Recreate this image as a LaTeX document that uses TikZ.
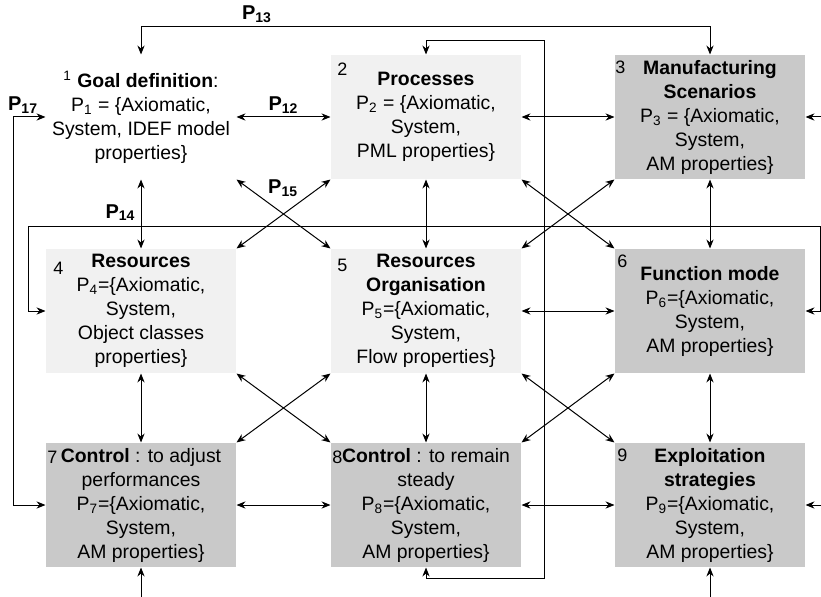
\documentclass[tikz,border=0pt]{standalone}
\usepackage{fontspec}
\setmainfont{Liberation Sans}
\usetikzlibrary{positioning,arrows.meta,calc}
\newcommand{\plab}[1]{\textbf{P\textsubscript{#1}}}

\begin{document}
\begin{tikzpicture}[>={Stealth[length=4.5pt,width=3.6pt]}, line width=0.5pt,
  box/.style={minimum width=95pt,minimum height=62pt,
    inner xsep=1.5pt,inner ysep=1pt,align=center,font=\fontsize{9.7}{12}\selectfont},
  wbox/.style={box,fill=white},
  lbox/.style={box,fill=gray!11},
  dbox/.style={box,fill=gray!42},
  num/.style={font=\fontsize{9}{10}\selectfont,inner sep=0pt},
  pl/.style={font=\fontsize{10}{12}\selectfont,inner sep=1.5pt}]
  \useasboundingbox (0,0) rectangle (410.5pt,298pt);
  % the nine blocks
  \node[wbox] (b1) at (70.5pt,239.5pt) {\textsuperscript{1} \textbf{Goal definition}:\\P\textsubscript{1} = \{Axiomatic,\\System, IDEF model\\properties\}};
  \node[lbox,right=47pt of b1] (b2) {\textbf{Processes}\\P\textsubscript{2} = \{Axiomatic,\\System,\\PML properties\}};
  \node[dbox,right=46.5pt of b2] (b3) {\textbf{Manufacturing}\\\textbf{Scenarios}\\P\textsubscript{3} = \{Axiomatic,\\System,\\AM properties\}};
  \node[lbox,below=34.5pt of b1] (b4) {\textbf{Resources}\\P\textsubscript{4}=\{Axiomatic,\\System,\\Object classes\\properties\}};
  \node[lbox,below=34.5pt of b2] (b5) {\textbf{Resources}\\\textbf{Organisation}\\P\textsubscript{5}=\{Axiomatic,\\System,\\Flow properties\}};
  \node[dbox,below=34.5pt of b3] (b6) {\textbf{Function mode}\\P\textsubscript{6}=\{Axiomatic,\\System,\\AM properties\}};
  \node[dbox,below=34.5pt of b4] (b7) {\textbf{Control} : to adjust\\performances\\P\textsubscript{7}=\{Axiomatic,\\System,\\AM properties\}};
  \node[dbox,below=34.5pt of b5] (b8) {\textbf{Control} : to remain\\steady\\P\textsubscript{8}=\{Axiomatic,\\System,\\AM properties\}};
  \node[dbox,below=34.5pt of b6] (b9) {\textbf{Exploitation}\\\textbf{strategies}\\P\textsubscript{9}=\{Axiomatic,\\System,\\AM properties\}};
  \foreach \i/\dx/\dy in {2/6/7.5,3/3/6.5,4/6.5/10,5/6/8.5,6/4/6.5,7/3.5/7.5,8/3.5/7.5,9/4/6.5}
    \node[num] (n\i) at ($(b\i.north west)+(\dx pt,-\dy pt)$) {\i};
  % neighbours
  \draw[<->] (b1) -- node[pl,above] (p12) {\plab{12}} (b2);
  \draw[<->] (b2) -- (b3);
  \draw[<->] (b5) -- (b6);
  \draw[<->] (b7) -- (b8);
  \draw[<->] (b8) -- (b9);
  \foreach \a/\b in {1/4,2/5,3/6,4/7,5/8,6/9}
    \draw[<->] (b\a) -- (b\b);
  % crossings
  \draw[<->] (b1.south east) -- node[pl,pos=0.3,anchor=south west] (p15) {\plab{15}} (b5.north west);
  \draw[<->] (b4.north east) -- (b2.south west);
  \draw[<->] (b2.south east) -- (b6.north west);
  \draw[<->] (b5.north east) -- (b3.south west);
  \draw[<->] (b4.south east) -- (b8.north west);
  \draw[<->] (b7.north east) -- (b5.south west);
  \draw[<->] (b5.south east) -- (b9.north west);
  \draw[<->] (b8.north east) -- (b6.south west);
  % P13 over the top
  \coordinate[above=14pt of b1.north] (t13);
  \draw[<->] (b1.north) -- (t13) -| (b3.north);
  \node[pl,anchor=south] (p13) at ($(t13)+(58pt,0)$) {\plab{13}};
  % P17 down the left side
  \coordinate[left=16pt of b1.west] (l17);
  \draw[<->] (b1.west) -- node[pl,pos=0.7,above] (p17) {\plab{17}} (l17) |- (b7.west);
  % P14 between rows 1 and 2
  \coordinate[left=8.5pt of b4.west] (w14);
  \coordinate[above=11pt of b4.north] (t14);
  \coordinate[right=7.5pt of b6.east] (e14);
  \draw[<->] (b4.west) -- (w14) |- (t14) -| (e14) -- (b6.east);
  \node[pl,anchor=south east] (p14) at ($(t14)+(-1pt,1pt)$) {\plab{14}};
  % loop from 8 back to 2
  \coordinate[below=5.5pt of b8.south] (lb);
  \coordinate[above=7pt of b2.north] (lt);
  \coordinate[right=11.5pt of b2.east] (lr);
  \draw[<->] (b8.south) -- (lb) -| (lr) |- (lt) -- (b2.north);
  % inputs from outside
  \coordinate[right=9pt of b3.east] (r3);
  \coordinate[right=9pt of b9.east] (r9);
  \coordinate[below=16pt of b7.south] (d7);
  \coordinate[below=16pt of b9.south] (d9);
  \draw[->] (r3) -- (b3);
  \draw[->] (r9) -- (b9);
  \draw[->] (d7) -- (b7);
  \draw[->] (d9) -- (b9);
\end{tikzpicture}
\end{document}
